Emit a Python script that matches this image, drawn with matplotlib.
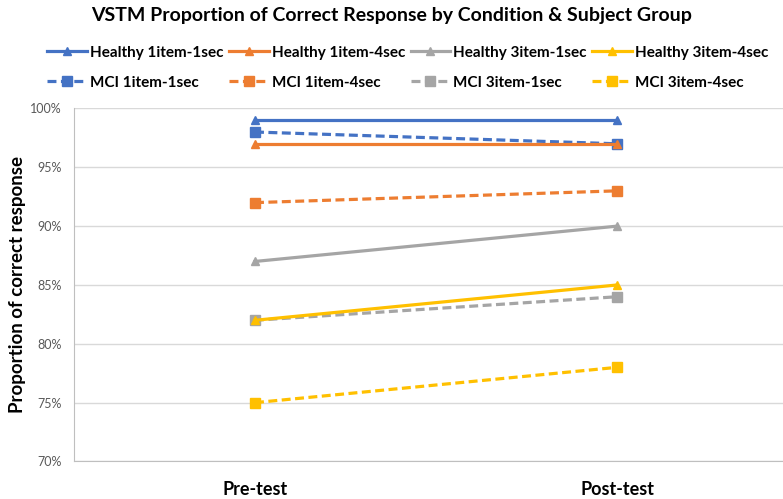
import matplotlib.pyplot as plt
import matplotlib.ticker as mtick

plt.rcParams['font.family'] = ['Lato', 'DejaVu Sans']

# data
phases = ['Pre-test', 'Post-test']
healthy_labels = ['Healthy 1item-1sec', 'Healthy 1item-4sec', 'Healthy 3item-1sec', 'Healthy 3item-4sec']
mci_labels = ['MCI 1item-1sec', 'MCI 1item-4sec', 'MCI 3item-1sec', 'MCI 3item-4sec']
healthy_1i1s = [0.99, 0.99]
healthy_1i4s = [0.97, 0.97]
healthy_3i1s = [0.87, 0.90]
healthy_3i4s = [0.82, 0.85]
mci_1i1s = [0.98, 0.97]
mci_1i4s = [0.92, 0.93]
mci_3i1s = [0.82, 0.84]
mci_3i4s = [0.75, 0.78]

healthy = [healthy_1i1s, healthy_1i4s, healthy_3i1s, healthy_3i4s]
mci = [mci_1i1s, mci_1i4s, mci_3i1s, mci_3i4s]
colors = ['#4472C4', '#ED7D31', '#A5A5A5', '#FFC000']

fig = plt.figure(figsize=(7.83, 4.99), dpi=100)
ax = fig.add_axes([0.0945, 0.0752, 0.9247, 0.7074])

x = list(range(len(phases)))
handles = []
for h, m, c, hl, ml in zip(healthy, mci, colors, healthy_labels, mci_labels):
    lh, = ax.plot(x, h, color=c, lw=2.3, marker='^', ms=6, label=hl, zorder=3)
    lm, = ax.plot(x, m, color=c, lw=2.3, ls=(0, (2.8, 1.4)), marker='s', ms=6.5, label=ml, zorder=3)
    handles += [lh, lm]

ax.set_xlim(-0.5, 1.5)
ax.set_ylim(0.70, 1.00)
ax.set_yticks([0.70, 0.75, 0.80, 0.85, 0.90, 0.95, 1.00])
ax.yaxis.set_major_formatter(mtick.PercentFormatter(1.0, decimals=0))
ax.set_xticks(x)
ax.set_xticklabels(phases, fontsize=13, fontweight='bold')
ax.tick_params(axis='x', length=0, pad=14)
ax.tick_params(axis='y', length=0, labelsize=9, labelcolor='#595959', pad=9)
ax.grid(axis='y', color='#D9D9D9', lw=1)
ax.set_axisbelow(True)
for s in ['top', 'right']:
    ax.spines[s].set_visible(False)
for s in ['left', 'bottom']:
    ax.spines[s].set_color('#BFBFBF')
ax.set_ylabel('Proportion of correct response', fontsize=13.5, fontweight='bold', labelpad=3)

fig.suptitle('VSTM Proportion of Correct Response by Condition & Subject Group',
             fontsize=14, fontweight='bold', y=0.985)

fig.legend(handles=handles, labels=[hd.get_label() for hd in handles],
           loc='upper left', bbox_to_anchor=(0.043, 0.936), ncol=4, frameon=False,
           prop={'weight': 'bold', 'size': 11}, handlelength=2.6, handletextpad=0.2,
           columnspacing=0.35, labelspacing=1.05)

fig.savefig('out.png', dpi=100)
